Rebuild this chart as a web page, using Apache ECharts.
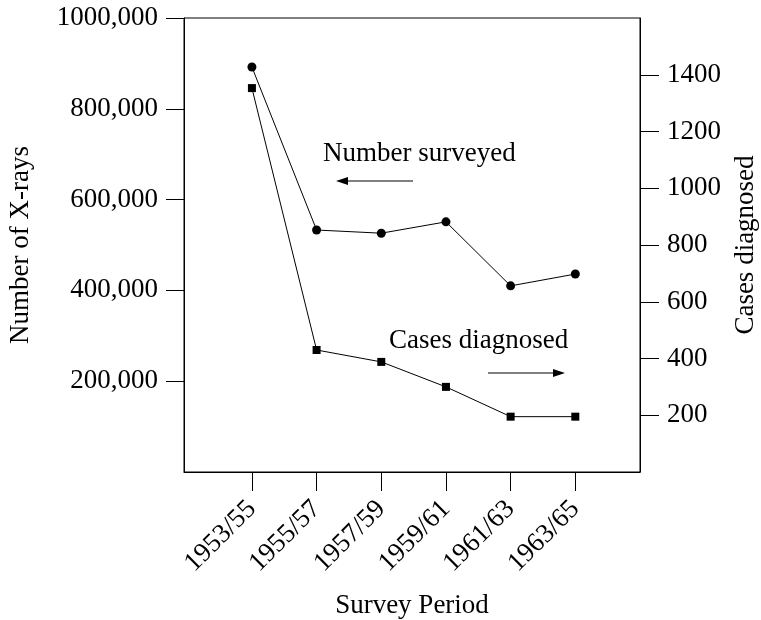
<!DOCTYPE html>
<html>
<head>
<meta charset="utf-8">
<script src="https://cdn.jsdelivr.net/npm/echarts@6/dist/echarts.min.js"></script>
<style>
html,body{margin:0;padding:0;background:#fff;}
#chart{width:761px;height:620px;}
</style>
</head>
<body>
<div id="chart"></div>
<script>
const periods = ['1953/55', '1955/57', '1957/59', '1959/61', '1961/63', '1963/65'];
const numberSurveyed = [892000, 533000, 526000, 551000, 410000, 436000];
const casesDiagnosed = [1353, 430, 388, 300, 195, 195];
const leftTicks = [200000, 400000, 600000, 800000, 1000000];
const rightTicks = [200, 400, 600, 800, 1000, 1200, 1400];

const FONT = 'Liberation Serif';
const FS = 27;
const idx = periods.map((p, i) => i);

function fmtLeft(v) {
  const t = Math.round(v / 1000);
  return t + ',000';
}

const chart = echarts.init(document.getElementById('chart'), null, {renderer: 'canvas'});
const lineStyle = {color: '#000', width: 1};

chart.setOption({
  animation: false,
  backgroundColor: '#fff',
  grid: {left: 184, right: 121, top: 18, bottom: 148, show: true, borderColor: '#000', borderWidth: 1,
         containLabel: false, outerBoundsMode: 'none'},
  xAxis: {
    type: 'value', min: -1.05, max: 6,
    axisLine: {show: true, onZero: false, lineStyle: lineStyle},
    splitLine: {show: false},
    axisTick: {show: true, inside: false, length: 19, customValues: idx, lineStyle: lineStyle},
    axisLabel: {
      customValues: idx, rotate: 45, margin: 33,
      fontFamily: FONT, fontSize: FS, color: '#000',
      formatter: v => periods[Math.round(v)] || ''
    },
    name: 'Survey Period', nameLocation: 'middle', nameGap: 120,
    nameTextStyle: {fontFamily: FONT, fontSize: FS, color: '#000'}
  },
  yAxis: [{
    type: 'value', min: 0, max: 1000000, position: 'left',
    axisLine: {show: true, onZero: false, lineStyle: lineStyle},
    splitLine: {show: false},
    axisTick: {show: true, inside: false, length: 18, customValues: leftTicks, lineStyle: lineStyle},
    axisLabel: {customValues: leftTicks, margin: 26, fontFamily: FONT, fontSize: FS, color: '#000', formatter: fmtLeft},
    name: 'Number of X-rays', nameLocation: 'middle', nameGap: 150, nameRotate: 90,
    nameTextStyle: {fontFamily: FONT, fontSize: FS, color: '#000'}
  }, {
    type: 'value', min: 0, max: 1600, position: 'right',
    axisLine: {show: true, onZero: false, lineStyle: lineStyle},
    splitLine: {show: false},
    axisTick: {show: true, inside: false, length: 19, customValues: rightTicks, lineStyle: lineStyle},
    axisLabel: {customValues: rightTicks, margin: 27, fontFamily: FONT, fontSize: FS, color: '#000',
                formatter: v => String(v)},
    name: 'Cases diagnosed', nameLocation: 'middle', nameGap: 92, nameRotate: 90,
    nameTextStyle: {fontFamily: FONT, fontSize: FS, color: '#000'}
  }],
  series: [{
    name: 'Number surveyed', type: 'line', yAxisIndex: 0,
    data: numberSurveyed.map((v, i) => [i, v]),
    symbol: 'circle', symbolSize: 9,
    itemStyle: {color: '#000'}, lineStyle: lineStyle
  }, {
    name: 'Cases diagnosed', type: 'line', yAxisIndex: 1,
    data: casesDiagnosed.map((v, i) => [i, v]),
    symbol: 'rect', symbolSize: 8,
    itemStyle: {color: '#000'}, lineStyle: lineStyle
  }],
  graphic: [
    {type: 'text', left: 323, top: 140, style: {text: 'Number surveyed', font: FS + 'px "' + FONT + '"', fill: '#000'}},
    {type: 'line', shape: {x1: 345, y1: 181, x2: 413, y2: 181}, style: {stroke: '#000', lineWidth: 1}},
    {type: 'polygon', shape: {points: [[336, 181], [348, 177], [348, 185]]}, style: {fill: '#000'}},
    {type: 'text', left: 389, top: 327, style: {text: 'Cases diagnosed', font: FS + 'px "' + FONT + '"', fill: '#000'}},
    {type: 'line', shape: {x1: 488, y1: 373, x2: 556, y2: 373}, style: {stroke: '#000', lineWidth: 1}},
    {type: 'polygon', shape: {points: [[565, 373], [553, 369], [553, 377]]}, style: {fill: '#000'}}
  ]
});
</script>
</body>
</html>
